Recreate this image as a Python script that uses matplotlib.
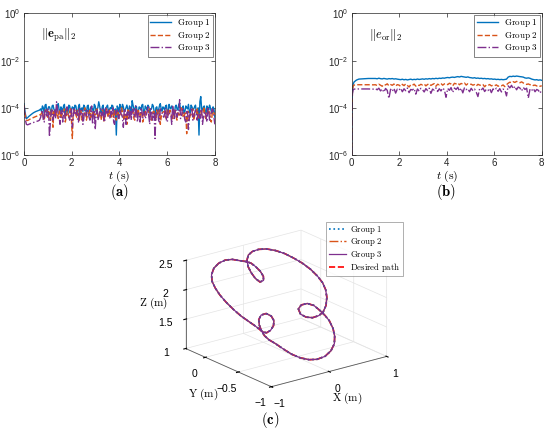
import numpy as np
import matplotlib
matplotlib.use("Agg")
import matplotlib.pyplot as plt

plt.rcParams['font.family'] = ['Liberation Sans', 'DejaVu Sans']
plt.rcParams['mathtext.fontset'] = 'cm'
plt.rcParams['grid.color'] = '#e4e4e4'
plt.rcParams['grid.linewidth'] = 0.5

# MATLAB default colours
BLUE = '#0072BD'
ORANGE = '#D95319'
PURPLE = '#7E2F8E'

# --- (a) position error norm, values in units of 1e-5 ---
t_a_start = [0, 0.05, 0.1, 0.15, 0.2, 0.3, 0.4, 0.5, 0.6, 0.65]
pa_g1_start = [15, 6, 3.5, 3.8, 4.3, 5.2, 6.2, 7.0, 7.6, 8.0]
pa_g2_start = [13, 5, 3.0, 2.9, 3.1, 3.5, 3.9, 4.3, 4.7, 5.0]
pa_g3_start = [12, 3.5, 2.0, 1.9, 2.0, 2.2, 2.4, 2.6, 2.8, 3.0]

# samples on the regular grid 0.7 ... 8 s
pa_g1 = [9, 12, 6, 14, 8, 11, 5, 13, 7, 10,
         15, 6, 9, 12, 4.5, 10, 13, 7, 11, 8,
         12, 5, 14, 9, 7, 11, 6, 13, 8, 10,
         6, 12, 9, 18, 7, 11, 5, 10, 13, 8,
         9, 12, 6, 0.7, 10, 14, 7, 11, 8, 13,
         6, 10, 20, 9, 12, 5, 11, 8, 14, 7,
         10, 13, 6, 9, 12, 4, 11, 8, 15, 7,
         10, 12, 6, 14, 9, 11, 5, 13, 8, 16,
         9, 12, 7, 10, 14, 6, 11, 9, 13, 5,
         0.7, 30, 8, 12, 6, 10, 13, 7, 11, 4]
pa_g2 = [5, 7, 3, 8, 4, 6, 9, 1.5, 5, 7,
         3.5, 8, 5, 6, 2.5, 7, 4, 9, 0.5, 6,
         5, 8, 3, 7, 4.5, 10, 3, 6, 8, 4,
         7, 5, 9, 3.5, 6, 8, 2.5, 7, 5, 9,
         4, 6, 8, 3, 7, 5, 10, 4, 6, 2,
         8, 5, 7, 3.5, 9, 6, 4, 7, 2.5, 8,
         5, 6, 9, 3, 7, 4.5, 8, 5, 2, 6,
         7, 4, 9, 5, 6, 3, 8, 4.5, 7, 5,
         10, 4, 6, 0.8, 7, 5, 8, 3, 6, 9,
         4, 7, 5, 11, 3.5, 6, 8, 2.5, 7, 5]
pa_g3 = [4, 8, 2.5, 6, 10, 0.6, 7, 3, 9, 18,
         5, 2, 8, 6, 3.5, 11, 4, 7, 1.5, 9,
         5, 3, 10, 6, 2, 8, 4.5, 7, 3, 12,
         6, 1.2, 8, 4, 9, 5, 2.5, 11, 6, 3.5,
         7, 10, 2, 6, 4, 9, 5, 1.5, 8, 6,
         3, 10, 7, 4, 12, 2.5, 6, 9, 3.5, 7,
         5, 11, 2, 8, 4, 0.5, 7, 3, 9, 6,
         4, 10, 2.5, 7, 5, 13, 3, 8, 6, 22,
         4, 9, 3, 7, 1.2, 6, 10, 4, 8, 3,
         6, 9, 2, 7, 4.5, 11, 3, 6, 8, 2]
# samples half-way between the grid points
pa_g1_mid = [7, 10, 13, 6, 11, 8, 12, 9, 6, 13,
             8, 11, 7, 14, 9, 6, 12, 8, 10, 13,
             7, 11, 6, 10, 13, 8, 12, 5, 11, 9,
             14, 7, 10, 12, 6, 13, 8, 11, 7, 10,
             13, 8, 9, 12, 6, 11, 14, 7, 10, 9,
             12, 6, 13, 8, 11, 7, 10, 13, 6, 12,
             8, 11, 9, 14, 7, 10, 6, 12, 9, 11,
             8, 13, 7, 10, 12, 6, 11, 9, 14, 8,
             10, 6, 12, 9, 7, 13, 8, 11, 6, 10,
             18, 9, 11, 7, 12, 8, 10, 6, 9]
pa_g2_mid = [6, 4, 8, 5, 7, 3, 6, 8, 4, 5,
             7, 3.5, 6, 9, 4, 5.5, 7, 3, 6, 8,
             4, 6, 7.5, 3, 5, 8, 4.5, 6, 3.5, 7,
             5, 8, 4, 6.5, 3, 7, 5, 9, 4, 6,
             7, 3.5, 5, 8, 4, 6, 7, 3, 5.5, 8,
             4, 6, 7, 3, 5, 9, 4.5, 6, 3.5, 7,
             5, 8, 4, 6, 7, 3, 5, 8, 4, 6.5,
             7, 3.5, 5, 8, 4, 6, 7.5, 3, 5, 6,
             8, 4, 6, 7, 3, 5, 9, 4.5, 6, 3.5,
             7, 5, 8, 4, 6, 7, 3, 5.5, 6]
pa_g3_mid = [6, 3, 9, 4.5, 7, 2.5, 8, 5, 3.5, 10,
             4, 7, 2.5, 8, 5, 6.5, 3, 9, 4, 6,
             7.5, 2.5, 5, 8, 3.5, 6, 9, 4, 7, 2,
             8, 5, 3, 7, 4.5, 9, 3, 6, 8, 4,
             5, 2.5, 7, 9, 3.5, 6, 4, 8, 2, 7,
             5.5, 3, 9, 4, 7, 6, 2.5, 8, 5, 3.5,
             7, 4, 9, 3, 6, 5, 8, 2.5, 7, 4.5,
             6, 3, 8, 5, 2, 7, 9, 4, 6, 3.5,
             8, 5, 2.5, 7, 4, 9, 3, 6, 5, 7,
             3.5, 8, 4, 6, 2.5, 7, 5, 9, 4]

# --- (b) orientation error norm, values in units of 1e-4 ---
t_b_start = [0, 0.01, 0.03, 0.06, 0.1, 0.2, 0.3, 0.5, 0.7, 0.9]
or_g1_start = [0.01, 1.0, 6.0, 10, 12.5, 15, 16.5, 17, 17.5, 17.5]
or_g2_start = [0.01, 1.0, 5.5, 8.5, 9.2, 9.5, 9.5, 9.5, 9.5, 9.4]
or_g3_start = [0.01, 0.8, 4.0, 5.8, 6.2, 6.3, 6.3, 6.3, 6.3, 6.2]

or_g1 = [17.5, 17, 18, 17.2, 16.8, 17.6, 17, 16.5, 17.3, 16.9, 17.4, 16.6, 17, 16.4,
         16, 15.6, 16.3, 15.4, 16, 15.2, 15.8, 16.4, 15.5, 16.1, 15.7, 16.6, 15.9, 16.3,
         16.8, 16.2, 17, 16.5, 17.3, 16.7, 17.5, 17, 17.8, 17.2, 18, 17.6, 18.4, 18,
         18.8, 19.3, 18.7, 19.6, 20, 19.4, 20.3, 21, 20.2, 21.5, 20.8, 20.2, 19.6, 20.4, 19.2,
         18.8, 18.2, 18.9, 17.8, 18.3, 17.5, 17.9, 17.2, 17.6, 16.9, 17.3, 16.6, 16.9, 16.2,
         16.5, 15.8, 16.2, 15.6, 16, 15.5, 15.9, 16.4,
         20, 21.5, 21, 22, 21.3, 22.2, 21.6, 21, 20.6, 20,
         18.5, 18, 18.6, 17.8,
         16.5, 15.8, 15.2, 15.6, 14.8, 15.3, 14.6]
or_g2 = [9.5, 8.8, 10, 9.1, 8.2, 9.8, 9.3, 10.4, 8.6, 9.7, 9, 10.2, 8.4, 9.6,
         9.2, 8.1, 9.9, 8.7, 10.3, 8.9, 7.6, 9.5, 9, 10.1, 8.3, 9.4, 8.8, 9.9,
         9.3, 10.2, 8.5, 9.7, 10.5, 8.9, 9.8, 10.6, 8.2, 10, 9.4, 10.8, 9.1, 10.3,
         10.7, 9.6, 11, 10.2, 8.6, 10.9, 10.4, 11.3, 9.5, 10.8, 10.1, 11.2, 9.2, 10.5, 9.8,
         10, 9.1, 9.7, 8.4, 9.9, 9.2, 8.8, 9.6, 7.8, 9.3, 8.9, 9.7, 8.5, 9.1,
         8.7, 9.4, 8.2, 9, 8.6, 9.3, 7.9, 9.5,
         11, 12.2, 11.5, 12.8, 11.9, 13.2, 12.4, 11.6, 12.6, 11.3,
         10.5, 9.8, 10.3, 9.5, 9.9, 8.8, 9.2, 8.4, 8.9, 8.2, 8.6]
or_g3 = [6.5, 5.8, 6.8, 5.2, 6.3, 4.6, 6.6, 5.5, 2.5, 6.1, 5, 6.7, 4.2, 6.2,
         5.6, 6.8, 4.8, 6.4, 5.3, 6.9, 4.4, 6, 5.7, 6.6, 3.8, 6.3, 5.1, 6.7,
         5.9, 4.7, 6.5, 5.4, 6.8, 4.1, 6.2, 5.6, 7, 4.9, 6.4, 5.2, 6.9, 5.8,
         2.8, 6.6, 5.5, 7.2, 4.5, 6.9, 6, 7.4, 5.1, 6.8, 4.3, 7.1, 5.9, 6.5, 4.8,
         6.7, 5.3, 6.2, 4.6, 3, 6.4, 5.7, 6.9, 4.9, 6.1, 5.4, 6.6, 4.4, 6.3,
         5.6, 6.8, 5, 6.5, 4.7, 6.2, 5.8, 3.2,
         8.5, 7, 9, 6.4, 8.2, 5.8, 7.6, 6.9, 5.2, 7.3,
         6, 6.8, 2.6, 6.2, 5.4, 6.6, 4.8, 6, 5.5, 4.2, 5.8]

# --- (c) 3D path (m) ---
path_x = [-0.117, -0.213, -0.307, -0.418, -0.543, -0.664, -0.761, -0.814, -0.829, -0.826,
          -0.801, -0.760, -0.708, -0.649, -0.593, -0.558, -0.536, -0.485, -0.402, -0.316,
          -0.262, -0.258, -0.310, -0.399, -0.478, -0.521, -0.542, -0.543, -0.513, -0.455,
          -0.386, -0.312, -0.217, -0.106, 0.017, 0.164, 0.305, 0.422, 0.498, 0.545,
          0.562, 0.548, 0.519, 0.475, 0.396, 0.293, 0.211, 0.195, 0.249, 0.342,
          0.451, 0.550, 0.655, 0.744, 0.798, 0.818, 0.803, 0.765, 0.701, 0.620,
          0.526, 0.419, 0.298, 0.173, 0.065, -0.027, -0.096, -0.141, -0.151, -0.142,
          -0.107, -0.040, -0.004, -0.002, -0.028, -0.064, -0.117]
path_y = [0.150, 0.173, 0.199, 0.208, 0.197, 0.166, 0.117, 0.062, 0.001, -0.068,
          -0.140, -0.214, -0.284, -0.342, -0.393, -0.433, -0.460, -0.477, -0.465, -0.434,
          -0.393, -0.350, -0.318, -0.320, -0.352, -0.399, -0.450, -0.498, -0.541, -0.584,
          -0.647, -0.707, -0.755, -0.788, -0.803, -0.796, -0.763, -0.712, -0.650, -0.584,
          -0.513, -0.463, -0.410, -0.355, -0.324, -0.323, -0.350, -0.397, -0.434, -0.452,
          -0.449, -0.429, -0.381, -0.316, -0.251, -0.186, -0.121, -0.052, 0.016, 0.076,
          0.134, 0.178, 0.211, 0.224, 0.220, 0.200, 0.161, 0.104, 0.048, -0.007,
          -0.046, -0.041, -0.008, 0.041, 0.088, 0.127, 0.150]
path_z = [2.326, 2.357, 2.389, 2.401, 2.387, 2.348, 2.285, 2.214, 2.135, 2.048,
          1.956, 1.861, 1.770, 1.697, 1.630, 1.580, 1.545, 1.523, 1.538, 1.578,
          1.631, 1.686, 1.727, 1.725, 1.683, 1.623, 1.558, 1.496, 1.441, 1.386,
          1.305, 1.229, 1.167, 1.124, 1.105, 1.115, 1.157, 1.222, 1.301, 1.386,
          1.476, 1.541, 1.609, 1.680, 1.719, 1.720, 1.686, 1.626, 1.579, 1.555,
          1.560, 1.585, 1.646, 1.729, 1.812, 1.896, 1.980, 2.068, 2.155, 2.232,
          2.306, 2.363, 2.405, 2.422, 2.417, 2.391, 2.341, 2.269, 2.196, 2.125,
          2.075, 2.082, 2.125, 2.187, 2.248, 2.298, 2.326]


def merged_series(t_start, v_start, v_grid, v_mid, t0, t1):
    # put start, grid and mid samples into one time-ordered series
    t_grid = np.linspace(t0, t1, len(v_grid))
    t_mid = (t_grid[:-1] + t_grid[1:]) / 2
    t = np.concatenate([t_start, t_grid, t_mid])
    v = np.concatenate([v_start, v_grid, v_mid])
    order = np.argsort(t, kind='stable')
    return t[order], v[order]


def style_2d(ax, note):
    ax.set_yscale('log')
    ax.set_xlim(0, 8)
    ax.set_ylim(1e-6, 1)
    ax.set_xticks([0, 2, 4, 6, 8])
    ax.set_yticks([1e-6, 1e-4, 1e-2, 1])
    ax.minorticks_off()
    ax.tick_params(direction='in', top=True, right=True, labelsize=7,
                   length=3, width=0.5, colors='0.15', pad=2.5)
    for s in ax.spines.values():
        s.set_linewidth(0.5)
        s.set_color('0.15')
    ax.set_xlabel(r'$t\ \mathrm{(s)}$', fontsize=8.5, labelpad=0)
    ax.text(0.09, 0.845, note, transform=ax.transAxes, fontsize=9, va='center')
    leg = ax.legend(loc='upper right', fontsize=6.5, fancybox=False,
                    edgecolor='0.15', handlelength=2.4, handletextpad=0.6,
                    borderpad=0.25, labelspacing=0.05, borderaxespad=0.2)
    leg.get_frame().set_linewidth(0.5)


fig = plt.figure(figsize=(5.5, 4.33), dpi=100)

# panel (a)
ax_a = fig.add_axes([0.0436, 0.642, 0.347, 0.327])
unit_a = 1e-5
series_a = [(pa_g1_start, pa_g1, pa_g1_mid, '-', BLUE, 'Group\\ 1'),
            (pa_g2_start, pa_g2, pa_g2_mid, '--', ORANGE, 'Group\\ 2'),
            (pa_g3_start, pa_g3, pa_g3_mid, '-.', PURPLE, 'Group\\ 3')]
for v_start, v_grid, v_mid, ls, col, name in series_a:
    t, v = merged_series(t_a_start, v_start, v_grid, v_mid, 0.7, 8.0)
    ax_a.plot(t, v * unit_a, ls, color=col, lw=1.0, label=r'$\mathrm{%s}$' % name)
style_2d(ax_a, r'$\|\mathbf{e}_{\mathrm{pa}}\|_2$')

# panel (b)
ax_b = fig.add_axes([0.6395, 0.642, 0.3455, 0.327])
t_b = np.concatenate([t_b_start, np.linspace(1.0, 8.0, len(or_g1))])
unit_b = 1e-4
ax_b.plot(t_b, np.array(or_g1_start + or_g1) * unit_b, '-', color=BLUE, lw=1.0,
          label=r'$\mathrm{Group\ 1}$')
ax_b.plot(t_b, np.array(or_g2_start + or_g2) * unit_b, '--', color=ORANGE, lw=1.0,
          label=r'$\mathrm{Group\ 2}$')
ax_b.plot(t_b, np.array(or_g3_start + or_g3) * unit_b, '-.', color=PURPLE, lw=1.0,
          label=r'$\mathrm{Group\ 3}$')
style_2d(ax_b, r'$\|e_{\mathrm{or}}\|_2$')

# panel (c)
ax_c = fig.add_axes([0.2565, 0.031, 0.517, 0.5], projection='3d')
ax_c.set_proj_type('ortho')
ax_c.view_init(elev=20, azim=-127.5)
ax_c.set_box_aspect((1.55, 1.5, 1))
ax_c.computed_zorder = False
ax_c.plot(path_x, path_y, path_z, ':', color=BLUE, lw=1.2, zorder=3,
          label=r'$\mathrm{Group\ 1}$')
ax_c.plot(path_x, path_y, path_z, '-.', color=ORANGE, lw=1.0, zorder=2,
          label=r'$\mathrm{Group\ 2}$')
ax_c.plot(path_x, path_y, path_z, '-', color=PURPLE, lw=0.9, zorder=4,
          label=r'$\mathrm{Group\ 3}$')
ax_c.plot(path_x, path_y, path_z, '--', color='red', lw=1.2, zorder=1,
          label=r'$\mathrm{Desired\ path}$')
ax_c.set_xlim(-1, 1)
ax_c.set_ylim(-1, 0.3)
ax_c.set_zlim(1, 2.5)
ax_c.set_xticks([-1, 0, 1])
ax_c.set_xticklabels(['\u22121', '0', '1'])
ax_c.set_yticks([-1, -0.5, 0])
ax_c.set_yticklabels(['\u22121', '\u22120.5', '0'])
ax_c.set_zticks([1, 1.5, 2, 2.5])
ax_c.set_zticklabels(['1', '1.5', '2', '2.5'])
ax_c.tick_params(labelsize=7.5, pad=0)
for axis in (ax_c.xaxis, ax_c.yaxis, ax_c.zaxis):
    axis.set_pane_color((1, 1, 1, 0))
    axis.pane.set_edgecolor('#e4e4e4')
    axis.line.set_color('0.35')
    axis.line.set_linewidth(0.6)
    axis.set_rotate_label(False)
ax_c.set_xlabel(r'$\mathrm{X\ (m)}$', fontsize=8, labelpad=-4, rotation=0)
ax_c.set_ylabel(r'$\mathrm{Y\ (m)}$', fontsize=8, labelpad=-3, rotation=0)
ax_c.set_zlabel(r'$\mathrm{Z\ (m)}$', fontsize=8, labelpad=-8, rotation=0)
leg_c = ax_c.legend(loc='upper right', bbox_to_anchor=(0.733, 0.488),
                    bbox_transform=fig.transFigure, fontsize=6.3, fancybox=False,
                    edgecolor='0.45', handlelength=2.0, handletextpad=0.5,
                    borderpad=0.25, labelspacing=0.05, borderaxespad=0)
leg_c.get_frame().set_linewidth(0.5)

# captions
fig.text(0.217, 0.556, r'$(\mathbf{a})$', fontsize=10.5, ha='center', va='center')
fig.text(0.811, 0.556, r'$(\mathbf{b})$', fontsize=10.5, ha='center', va='center')
fig.text(0.491, 0.030, r'$(\mathbf{c})$', fontsize=10.5, ha='center', va='center')

fig.savefig('out.png', dpi=100, facecolor='white')
